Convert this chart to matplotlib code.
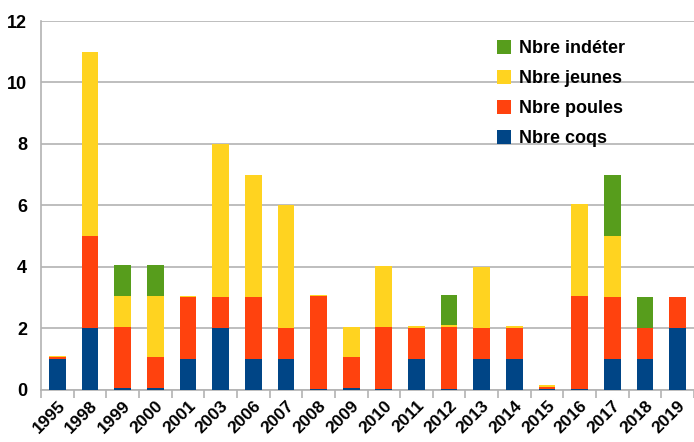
import matplotlib
matplotlib.use("Agg")
import matplotlib.pyplot as plt
import numpy as np

# data
years = ["1995", "1998", "1999", "2000", "2001", "2003", "2006", "2007", "2008", "2009",
         "2010", "2011", "2012", "2013", "2014", "2015", "2016", "2017", "2018", "2019"]
coqs = [1, 2, 0.05, 0.05, 1, 2, 1, 1, 0.03, 0.05,
        0.03, 1, 0.03, 1, 1, 0.03, 0.03, 1, 1, 2]
poules = [0.05, 3, 2, 1, 2, 1, 2, 1, 3, 1,
          2, 1, 2, 1, 1, 0.06, 3, 2, 1, 1]
jeunes = [0.05, 6, 1, 2, 0.05, 5, 4, 4, 0.06, 1,
          2, 0.06, 0.06, 2, 0.06, 0.06, 3, 2, 0, 0]
indeter = [0, 0, 1, 1, 0, 0, 0, 0, 0, 0,
           0, 0, 1, 0, 0, 0, 0, 2, 1, 0]

series = [("Nbre coqs", coqs, "#004586"),
          ("Nbre poules", poules, "#ff420e"),
          ("Nbre jeunes", jeunes, "#ffd320"),
          ("Nbre indéter", indeter, "#579d1c")]

plt.rcParams["font.family"] = ["Liberation Sans", "DejaVu Sans"]
plt.rcParams["font.weight"] = "bold"

fig = plt.figure(figsize=(6.94, 4.42), dpi=100)
ax = fig.add_axes([41 / 694, 52.5 / 442, 653 / 694, 368.5 / 442])

x = np.arange(len(years))
bottom = np.zeros(len(years))
handles = []
for name, vals, col in series:
    b = ax.bar(x, vals, width=0.51, bottom=bottom, color=col, label=name, zorder=3)
    handles.append(b)
    bottom += np.array(vals)

ax.set_xlim(-0.5, len(years) - 0.5)
ax.set_ylim(0, 12)
ax.set_yticks(range(0, 13, 2))
ax.tick_params(axis="y", length=0, pad=10, labelsize=13)
ax.yaxis.grid(True, color="#b3b3b3", linewidth=1.2, zorder=0)

# category labels with tick marks at boundaries
ax.set_xticks(x)
ax.set_xticklabels(years, rotation=45, ha="right", rotation_mode="anchor", fontsize=12.5)
ax.tick_params(axis="x", length=0, pad=6)
ax.set_xticks(np.arange(-0.5, len(years), 1), minor=True)
ax.tick_params(axis="x", which="minor", length=6, color="#b3b3b3", width=1.2)

for side in ["top", "right"]:
    ax.spines[side].set_visible(False)
for side in ["left", "bottom"]:
    ax.spines[side].set_color("#b3b3b3")
    ax.spines[side].set_linewidth(1.2)

leg = ax.legend(handles[::-1], [s[0] for s in series][::-1], loc="upper left",
                bbox_to_anchor=(481 / 694, 1 - 24 / 442), bbox_transform=fig.transFigure,
                frameon=False, fontsize=13, handlelength=0.75, handleheight=0.75,
                handletextpad=0.45, labelspacing=0.72)

fig.savefig("out.png", dpi=100)
